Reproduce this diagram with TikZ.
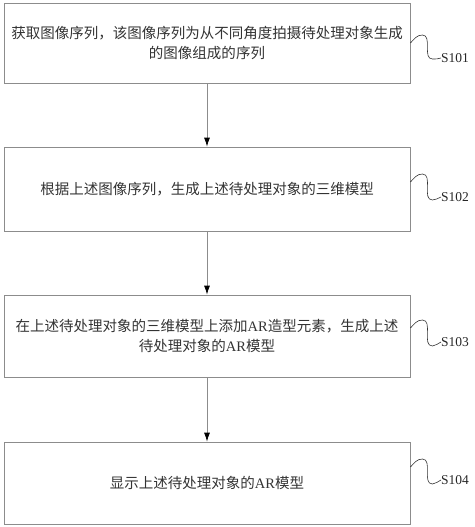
\documentclass[tikz,border=0pt]{standalone}
\usepackage{fontspec}
\setmainfont{Liberation Serif}
\newfontfamily\cjk{Noto Sans CJK SC}
\usetikzlibrary{arrows.meta}
\newcommand{\lat}[1]{{\rmfamily #1}}

\begin{document}
\begin{tikzpicture}[x=1pt,y=1pt,
  stepbox/.style = {draw=black!45, line width=0.8pt, minimum width=406pt, inner sep=0pt,
                    align=center, text=black!80, font=\cjk\fontsize{14.5}{20}\selectfont},
  steplabel/.style = {anchor=west, inner sep=0pt, text=black!85, font=\rmfamily\fontsize{13.5}{16}\selectfont},
  wave/.style = {draw=black!80, line width=0.6pt},
  flow/.style = {draw=black!45, line width=0.8pt, -{Latex[length=9pt,width=6pt,black]}}]
				\useasboundingbox (0,0) rectangle (474,-527);
				\node[stepbox, minimum height=80pt] (b1) at (207,-43) {获取图像序列，该图像序列为从不同角度拍摄待处理对象生成\\的图像组成的序列};
				\node[stepbox, minimum height=84pt] (b2) at (207,-189) {根据上述图像序列，生成上述待处理对象的三维模型};
				\node[stepbox, minimum height=82pt] (b3) at (207,-336) {在上述待处理对象的三维模型上添加\lat{AR}造型元素，生成上述\\待处理对象的\lat{AR}模型};
				\node[stepbox, minimum height=82pt] (b4) at (207,-483) {显示上述待处理对象的\lat{AR}模型};
				\node[steplabel] (l1) at (441,-58) {S101};
				\node[steplabel] (l2) at (441,-197) {S102};
				\node[steplabel] (l3) at (441,-342) {S103};
				\node[steplabel] (l4) at (441,-480) {S104};
				\draw [flow] (b1) -- (b2);
				\draw [flow] (b2) -- (b3);
				\draw [flow] (b3) -- (b4);
				\draw [wave] (b1.east) to [out=45,in=180] ++(12,8) to [out=0,in=180] ++(10,-24) to [out=0,in=200] (l1.west);
				\draw [wave] ([yshift=7pt]b2.east) to [out=45,in=180] ++(12,8) to [out=0,in=180] ++(10,-26) to [out=0,in=200] (l2.west);
				\draw [wave] ([yshift=8pt]b3.east) to [out=45,in=180] ++(12,8) to [out=0,in=180] ++(10,-26) to [out=0,in=200] (l3.west);
				\draw [wave] ([yshift=16pt]b4.east) to [out=45,in=180] ++(12,8) to [out=0,in=180] ++(10,-25) to [out=0,in=200] (l4.west);
			\end{tikzpicture}
\end{document}
